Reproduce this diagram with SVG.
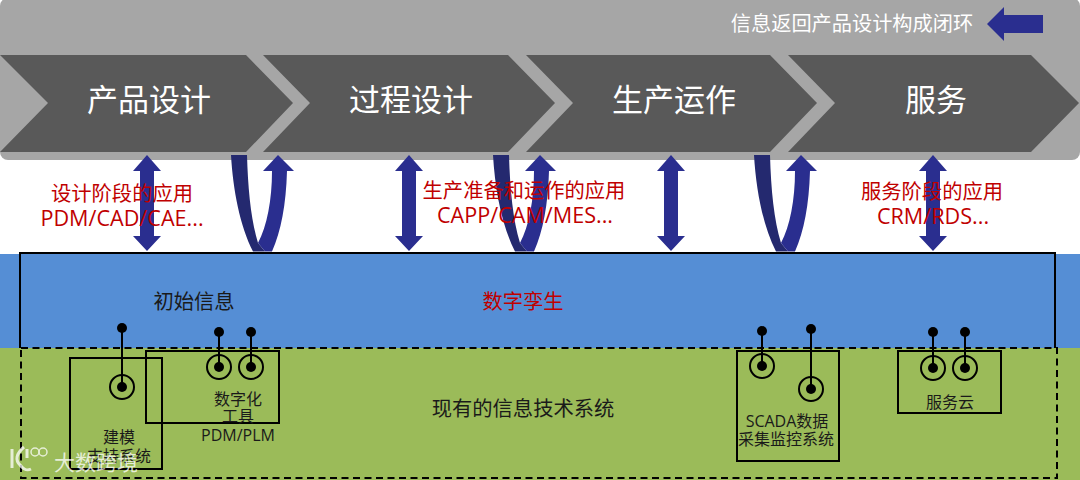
<svg xmlns="http://www.w3.org/2000/svg" width="1080" height="480" viewBox="0 0 1080 480">
<style>
text{font-family:"Open Sans","Noto Sans CJK SC",sans-serif;text-anchor:middle}
.w30{font-size:31px;fill:#fff}
.r{font-size:20.3px;fill:#c00000}
.r2{font-size:21.6px;fill:#c00000}
.k20{font-size:20.3px;fill:#1a1a1a}
.k16{font-size:16px;fill:#1a1a1a}
.chev{fill:#595959}
.box{fill:none;stroke:#000;stroke-width:2}
.ring{fill:none;stroke:#000;stroke-width:2}
.pin{stroke:#000;stroke-width:2}
.dark{fill:#24296f}
.blue{fill:#2a2e8f}
</style>
<defs>
<polygon id="dbl" points="0,155 14,171 7,171 7,236 14,236 0,251 -14,236 -7,236 -7,171 -14,171"/>
<g id="u">
<path class="dark" d="M0,155H16C17,190 20,220 27,243L34,251.500H22C9,226 2,190 0,155Z"/>
<path class="blue" d="M34,251.500H41C50,231 55,205 56,171H63L47,155 32,171H41C41,200 36,226 27,243Z"/>
</g>
<g id="pinA"><circle r="12" class="ring"/><circle r="5"/></g>
</defs>
<rect x="0" y="0" width="1080" height="480" fill="#fff"/>
<rect id="band-grey" x="0" y="-2" width="1080" height="162" rx="8" fill="#a6a6a6"/>
<rect id="band-blue" x="0" y="254" width="1080" height="94" fill="#558ed5"/>
<rect id="band-green" x="0" y="348" width="1080" height="132" fill="#9bbb59"/>
<g id="stage-1"><polygon class="chev" points="0,55 246,55 293,103 246,152 0,152 48,103"/><text class="w30" x="149" y="111">产品设计</text></g>
<g id="stage-2"><polygon class="chev" points="263,55 508,55 555,103 508,152 263,152 310,103"/><text class="w30" x="411" y="111">过程设计</text></g>
<g id="stage-3"><polygon class="chev" points="526,55 770,55 817,103 770,152 526,152 573,103"/><text class="w30" x="674" y="111">生产运作</text></g>
<g id="stage-4"><polygon class="chev" points="788,55 1031,55 1079,103 1031,152 788,152 835,103"/><text class="w30" x="936" y="111">服务</text></g>
<g id="feedback"><text x="852" y="31" font-size="20.2" fill="#fff">信息返回产品设计构成闭环</text><polygon class="blue" points="987,24 1004,7 1004,15 1043,15 1043,33 1004,33 1004,41"/></g>
<g id="connectors">
<use href="#dbl" class="blue" x="147"/>
<use href="#dbl" class="blue" x="409"/>
<use href="#dbl" class="blue" x="671"/>
<use href="#dbl" class="blue" x="933"/>
<use href="#u" x="231"/>
<use href="#u" x="493"/>
<use href="#u" x="754"/>
</g>
<g id="label-design"><text class="r" x="122" y="201">设计阶段的应用</text><text class="r2" x="122" y="226">PDM/CAD/CAE...</text></g>
<g id="label-prod"><text class="r" x="524" y="198">生产准备和运作的应用</text><text class="r2" x="525" y="223">CAPP/CAM/MES...</text></g>
<g id="label-service"><text class="r" x="932" y="199">服务阶段的应用</text><text class="r2" x="933" y="224">CRM/RDS...</text></g>
<g id="twin"><path d="M20,348V253H1055V348" class="box"/><text class="k20" x="194" y="309">初始信息</text><text class="r" x="523" y="309">数字孪生</text></g>
<g id="existing"><rect x="21" y="348" width="1036" height="130" fill="none" stroke="#000" stroke-width="2" stroke-dasharray="7 4.500"/><text class="k20" x="523" y="416">现有的信息技术系统</text></g>
<g id="modeling"><rect x="70" y="358" width="92" height="111" class="box"/><line class="pin" x1="122" y1="328" x2="122" y2="387"/><circle cx="122" cy="328" r="5"/><use href="#pinA" x="122" y="387"/><text class="k16" x="119" y="443">建模</text><text class="k16" x="119" y="462">支持系统</text></g>
<g id="digital"><rect x="146" y="351" width="133" height="72" class="box"/><line class="pin" x1="219" y1="332" x2="219" y2="367"/><line class="pin" x1="251" y1="332" x2="251" y2="367"/><circle cx="219" cy="332" r="5"/><circle cx="251" cy="332" r="5"/><use href="#pinA" x="219" y="367"/><use href="#pinA" x="251" y="367"/><text class="k16" x="238" y="405">数字化</text><text class="k16" x="238" y="422">工具</text><text class="k16" x="238" y="441">PDM/PLM</text></g>
<g id="scada"><rect x="737" y="351" width="102" height="110" class="box"/><line class="pin" x1="762" y1="331" x2="762" y2="366"/><line class="pin" x1="811" y1="329" x2="811" y2="389"/><circle cx="762" cy="331" r="5"/><circle cx="811" cy="329" r="5"/><use href="#pinA" x="762" y="366"/><use href="#pinA" x="811" y="389"/><text class="k16" x="787" y="427">SCADA数据</text><text class="k16" x="786" y="445">采集监控系统</text></g>
<g id="cloud"><rect x="898" y="351" width="103" height="62" class="box"/><line class="pin" x1="933" y1="332" x2="933" y2="368"/><line class="pin" x1="965" y1="332" x2="965" y2="368"/><circle cx="933" cy="332" r="5"/><circle cx="965" cy="332" r="5"/><use href="#pinA" x="933" y="368"/><use href="#pinA" x="965" y="368"/><text class="k16" x="950" y="408">服务云</text></g>
<g id="watermark" opacity=".75"><path d="M12,449V468M24,447C16,454 15,460 20,465 24,470 27,471 31,469M27,449V458" fill="none" stroke="#fff" stroke-width="3"/><circle cx="35" cy="452" r="4" fill="none" stroke="#fff" stroke-width="1.500"/><circle cx="43" cy="452" r="4" fill="none" stroke="#fff" stroke-width="1.500"/><text x="96" y="470" font-size="21" fill="#fff">大数跨境</text></g>
</svg>
